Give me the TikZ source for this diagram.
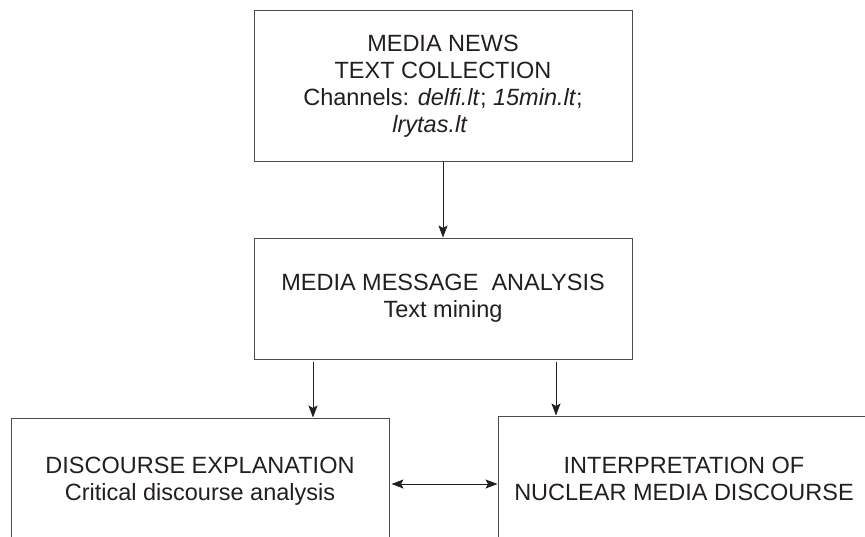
\documentclass[tikz,border=0pt]{standalone}
\usepackage{fontspec}
\setmainfont{Liberation Sans}
\usetikzlibrary{arrows.meta}
\definecolor{txt}{HTML}{231F20}
\tikzset{
  boxnode/.style={draw=black!70, line width=1pt, text=txt, align=center,
    inner sep=0pt, font=\fontsize{23.5}{27}\selectfont},
  tip/.tip={Stealth[length=12pt,width=9pt,inset=2.5pt]},
  arr/.style={draw=txt, line width=0.8pt, -tip},
  darr/.style={draw=txt, line width=0.8pt, tip-tip}
}
\begin{document}
\begin{tikzpicture}[x=1pt,y=-1pt]
\clip (0,0) rectangle (865,536);
\fill[white] (0,0) rectangle (865,536);
\node[boxnode, minimum width=378pt, minimum height=151pt] (top) at (443,86)
  {MEDIA NEWS\\TEXT COLLECTION\\Channels: \textit{delfi.lt}; \textit{15min.lt};\\\textit{lrytas.lt}\hspace*{26pt}};
\node[boxnode, minimum width=378pt, minimum height=121pt] (mid) at (443,298.5)
  {MEDIA MESSAGE\ \ ANALYSIS\\Text mining};
\node[boxnode, minimum width=378pt, minimum height=126pt] (bl) at (200,481)
  {DISCOURSE EXPLANATION\\Critical discourse analysis};
\node[boxnode, minimum width=372pt, minimum height=126pt] (br) at (684,479)
  {INTERPRETATION OF\\NUCLEAR MEDIA DISCOURSE};
\draw[arr] (top.south) -- (mid.north);
\draw[arr] ([xshift=-130pt,yshift=-2pt]mid.south) -- ([xshift=-130pt]mid.south |- bl.north);
\draw[arr] ([xshift=113pt,yshift=-2pt]mid.south) -- ([xshift=113pt]mid.south |- br.north);
\draw[darr] ([xshift=2pt,yshift=-3pt]bl.east) -- ([yshift=-3pt]bl.east -| br.west);
\end{tikzpicture}
\end{document}
